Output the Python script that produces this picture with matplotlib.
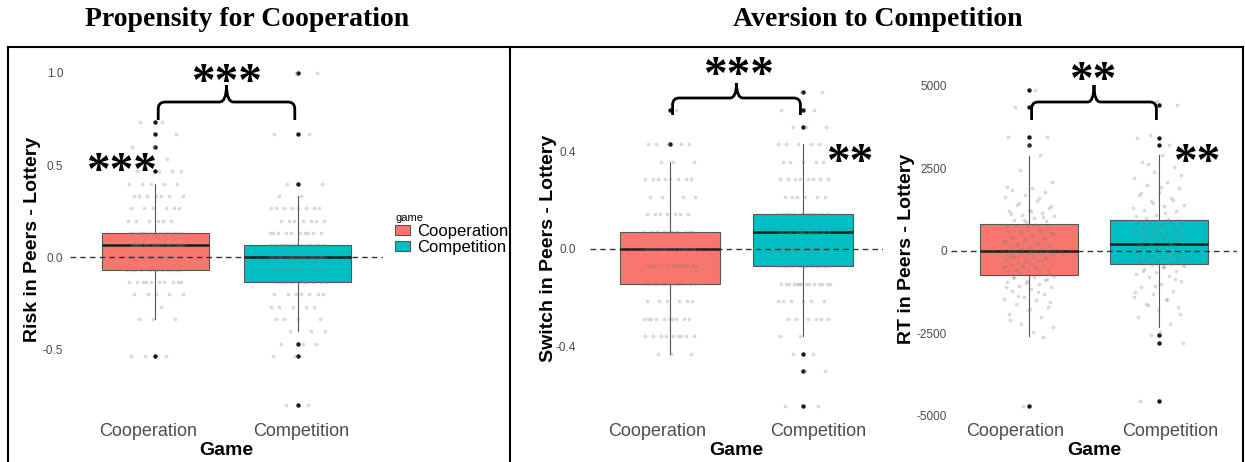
import matplotlib
matplotlib.use('Agg')
import matplotlib.pyplot as plt
import numpy as np
from matplotlib.patches import Patch, PathPatch
from matplotlib.path import Path
from matplotlib import transforms

plt.rcParams['font.family'] = ['Liberation Sans', 'DejaVu Sans']

W, H = 1245, 462
games = ['Cooperation', 'Competition']
colors = ['#F8766D', '#00BFC4']

# ---- Risk (values in fifteenths) ----
risk_coop_levels = [11, 10, 9, 8, 7, 6, 5, 4, 3, 2, 1, 0, -1, -2, -3, -4, -5, -8]
risk_coop_counts = [2, 1, 2, 2, 4, 5, 7, 6, 6, 14, 16, 18, 12, 10, 5, 1, 3, 3]
risk_comp_levels = [15, 10, 6, 5, 4, 3, 2, 1, 0, -1, -2, -3, -4, -5, -6, -7, -8, -12]
risk_comp_counts = [2, 2, 2, 2, 8, 7, 10, 14, 20, 12, 10, 7, 5, 4, 3, 3, 2, 2]
risk_box = [  # q1, med, q3, whislo, whishi
    [-1/15, 1/15, 2/15, -5/15, 6/15],
    [-2/15, 0.0, 1/15, -6/15, 5/15],
]
risk_out = [[7/15, 9/15, 10/15, 11/15, -8/15],
            [1.0, 10/15, 6/15, -7/15, -8/15, -12/15]]

# ---- Switch (values in fourteenths) ----
sw_coop_levels = [8, 6, 5, 4, 3, 2, 1, 0, -1, -2, -3, -4, -5, -6]
sw_coop_counts = [1, 5, 3, 8, 4, 7, 10, 16, 12, 12, 6, 10, 9, 3]
sw_comp_levels = [9, 8, 7, 6, 5, 4, 3, 2, 1, 0, -1, -2, -3, -4, -5, -6, -7, -9]
sw_comp_counts = [2, 2, 3, 5, 5, 8, 6, 12, 14, 16, 12, 14, 6, 6, 2, 2, 2, 2]
sw_box = [
    [-2/14, 0.0, 1/14, -6/14, 5/14],
    [-1/14, 1/14, 2/14, -5/14, 6/14],
]
sw_out = [[6/14, 8/14],
          [9/14, 8/14, 7/14, -6/14, -7/14, -9/14]]

# ---- RT (ms) ----
rt_coop = [4870, 4370, 3450, 3200, 3450, 2900, 2450, 2100, 1900, 1850, 1800, 1700, 1650,
           1500, 1400, 1300, 1250, 1200, 1150, 1100, 1050, 1000, 950, 900, 870,
           1950, 1600, 1450, 1350, 1220, 1120, 1020, 930,
           800, 780, 750, 700, 650, 600, 580, 550, 500, 450, 420, 400, 350, 300, 280,
           250, 200, 150, 120, 100, 80, 50, 30, 10, 5,
           760, 720, 680, 620, 540, 480, 430, 380, 330, 260, 220, 170, 130, 60,
           -20, -50, -80, -100, -150, -180, -200, -250, -280, -300, -350, -380, -400,
           -420, -450, -480, -500, -520, -550, -580, -600, -620, -650, -680, -720,
           -30, -120, -220, -330, -440, -530, -610, -700, -60, -160, -270, -460,
           -750, -780, -800, -850, -900, -950, -1000, -1050, -1100, -1150, -1200, -1300,
           -1400, -1450, -1500, -1600, -1700, -1800, -1900, -2000, -2200, -2300, -2450,
           -820, -880, -970, -1080, -1250, -1350, -1550, -1750, -2100,
           -2600, -4700]
rt_comp = [4420, 4550, 3430, 3200, 3500, 3100, 2900, 2700, 2550, 2400, 2200, 2100, 2000,
           1900, 1800, 1700, 1600, 1500, 1400, 1350, 1250, 1200, 1100, 1050, 980,
           2650, 2300, 1950, 1750, 1550, 1450, 1300, 1150, 1000,
           930, 900, 880, 850, 820, 800, 780, 750, 700, 680, 650, 620, 600, 560, 520,
           500, 470, 440, 400, 380, 350, 320, 300, 260, 230,
           910, 840, 760, 710, 640, 580, 540, 480, 420, 360, 280, 240,
           200, 180, 150, 120, 100, 80, 50, 20, 0, -20, -50, -80, -100, -130, -160,
           -200, -220, -250, -280, -300, -320, -350, -370, -390, -400,
           190, 140, 60, 10, -60, -110, -180, -240, -330, -380,
           -420, -450, -500, -550, -600, -650, -700, -750, -800, -900, -1000, -1100,
           -1200, -1300, -1400, -1500, -1600, -1700, -1800, -2000, -2200, -2535, -2790,
           -480, -620, -850, -1050, -1250, -1450, -1650, -1900,
           -2450, -4560]
rt_box = [
    [-730, 0, 820, -2590, 2870],
    [-405, 215, 945, -2300, 2920],
]
rt_out = [[4870, 4370, 3450, 3200, -4700],
          [4420, 3430, 3200, -2535, -2790, -4560]]

risk_pts = [np.repeat(np.array(risk_coop_levels) / 15, risk_coop_counts),
            np.repeat(np.array(risk_comp_levels) / 15, risk_comp_counts)]
sw_pts = [np.repeat(np.array(sw_coop_levels) / 14, sw_coop_counts),
          np.repeat(np.array(sw_comp_levels) / 14, sw_comp_counts)]
rt_pts = [np.array(rt_coop), np.array(rt_comp)]

fig = plt.figure(figsize=(W / 100, H / 100), dpi=100)


def fx(px):
    return px / W


def fy(py):
    return 1 - py / H


def spread(n, k):
    # evenly spread horizontal jitter (low-discrepancy sequence)
    return 0.2 * (((np.arange(n) + 1 + 0.37 * k) * 0.6180339887) % 1 * 2 - 1)


def panel(rect, pts, box, out, ylim, yticks, yticklabels, ylabel, tickpad, ylab_x, xshift):
    ax = fig.add_axes(rect)
    stats = []
    for i in range(2):
        q1, med, q3, lo, hi = box[i]
        stats.append(dict(q1=q1, med=med, q3=q3, whislo=lo, whishi=hi, fliers=out[i]))
    b = ax.bxp(stats, positions=[0, 1], widths=0.75, patch_artist=True, showcaps=False,
               manage_ticks=False,
               boxprops=dict(edgecolor='#555555', linewidth=0.8),
               whiskerprops=dict(color='#555555', linewidth=0.8),
               medianprops=dict(color='#1a1a1a', linewidth=1.8),
               flierprops=dict(marker='o', markersize=2.2, markerfacecolor='#1a1a1a',
                               markeredgecolor='#1a1a1a'),
               zorder=2)
    for patch, c in zip(b['boxes'], colors):
        patch.set_facecolor(c)
    for i in range(2):
        v = pts[i]
        ax.scatter(i + spread(len(v), i), v, s=7, color='#808080', alpha=0.3,
                   linewidths=0, zorder=3)
    ax.axhline(0, color='#333333', linestyle=(0, (4, 3)), linewidth=1.0, zorder=4)
    ax.set_xlim(-0.6, 1.6)
    ax.set_ylim(*ylim)
    ax.set_yticks(yticks)
    ax.set_yticklabels(yticklabels)
    # tick labels sit slightly off the box centres in the original
    step_px = rect[2] * W / 2.2
    ax.set_xticks([0 + xshift[0] / step_px, 1 + xshift[1] / step_px])
    ax.set_xticklabels(games)
    for s in ax.spines.values():
        s.set_visible(False)
    ax.tick_params(axis='y', length=0, pad=tickpad, labelsize=8.5, labelcolor='#4d4d4d')
    ax.tick_params(axis='x', length=0, pad=1, labelsize=13, labelcolor='#4d4d4d')
    ax.set_ylabel(ylabel, fontsize=14, fontweight='bold')
    ax.yaxis.set_label_coords(ylab_x, 0.5)
    ax.set_xlabel('Game', fontsize=14, fontweight='bold', va='top')
    ax.xaxis.set_label_coords(0.5, -0.056 * 366 / (rect[3] * H))
    return ax


def brace(ax, y_end, y_mid, y_peak):
    tr = transforms.blended_transform_factory(ax.transData, fig.transFigure)
    x0, x1 = 0.02, 0.98
    xc = (x0 + x1) / 2
    rx = 0.05
    ye, ym, yp = fy(y_end), fy(y_mid), fy(y_peak)
    r = 7 / H
    verts = [(x0, ye), (x0, ym - r), (x0, ym), (x0 + rx, ym), (xc - rx, ym),
             (xc, ym), (xc, yp), (xc, ym), (xc + rx, ym), (x1 - rx, ym),
             (x1, ym), (x1, ym - r), (x1, ye)]
    codes = [Path.MOVETO, Path.LINETO, Path.CURVE3, Path.CURVE3, Path.LINETO,
             Path.CURVE3, Path.CURVE3, Path.CURVE3, Path.CURVE3, Path.LINETO,
             Path.CURVE3, Path.CURVE3, Path.LINETO]
    ax.add_patch(PathPatch(Path(verts, codes), transform=tr, fill=False, lw=2,
                           edgecolor='black', clip_on=False, zorder=6))


def stars(x, y, s):
    fig.text(fx(x), fy(y), s, ha='center', va='baseline', fontsize=34,
             family='Liberation Serif', fontweight='bold', color='black')


ax1 = panel([fx(70), fy(422), fx(313), 366 / H], risk_pts, risk_box, risk_out,
            (-0.89, 1.09), [-0.5, 0.0, 0.5, 1.0], ['-0.5', '0.0', '0.5', '1.0'],
            'Risk in Peers - Lottery', 5, -0.093, [-7, 4])
ax2 = panel([fx(590), fy(422), fx(293), 347 / H], sw_pts, sw_box, sw_out,
            (-0.709, 0.713), [-0.4, 0.0, 0.4], ['-0.4', '0.0', '0.4'],
            'Switch in Peers - Lottery', 10, -0.112, [-13, 15])
ax3 = panel([fx(951), fy(422), fx(286), 347 / H], rt_pts, rt_box, rt_out,
            (-5182, 5333), [-5000, -2500, 0, 2500, 5000],
            ['-5000', '-2500', '0', '2500', '5000'],
            'RT in Peers - Lottery', 3, -0.127, [-14, 11])

brace(ax1, 120, 102, 85)
brace(ax2, 115, 98, 83)
brace(ax3, 120, 102, 85)

stars(226, 95, '***')
stars(121, 184, '***')
stars(738, 88, '***')
stars(850, 175, '**')
stars(1093, 93, '**')
stars(1197, 175, '**')

handles = [Patch(facecolor=c, edgecolor='#555555', linewidth=0.8) for c in colors]
leg = fig.legend(handles, games, title='game', loc='upper left',
                 bbox_to_anchor=(fx(395), fy(213)), frameon=False, fontsize=12,
                 title_fontsize=8, handlelength=0.9, handleheight=0.6,
                 handletextpad=0.4, labelspacing=0.05, borderpad=0, borderaxespad=0,
                 alignment='left')

fig.text(fx(247), fy(19), 'Propensity for Cooperation', ha='center', va='center',
         fontsize=20, family='Liberation Serif', fontweight='bold')
fig.text(fx(878), fy(19), 'Aversion to Competition', ha='center', va='center',
         fontsize=20, family='Liberation Serif', fontweight='bold')

# panel frames
for xs, ys in [([8, 8], [47, 462]), ([510, 510], [47, 462]), ([1243, 1243], [47, 462]),
               ([8, 1243], [47, 47])]:
    fig.add_artist(plt.Line2D([fx(v) for v in xs], [fy(v) for v in ys],
                              color='black', lw=1.5))

fig.savefig('out.png', dpi=100)
